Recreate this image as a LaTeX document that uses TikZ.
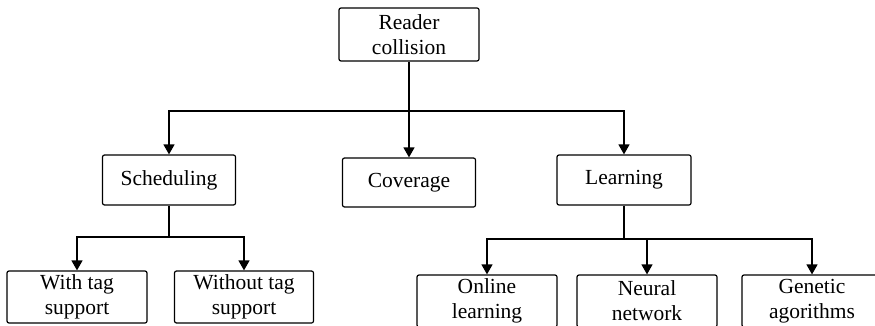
\documentclass[tikz,border=0pt]{standalone}
\usepackage{fontspec}
\setmainfont{Liberation Serif}
\usetikzlibrary{arrows.meta}
\begin{document}
\begin{tikzpicture}[x=1pt,y=-1pt,
  box/.style={draw, line width=1.2pt, rounded corners=2pt, inner sep=0pt,
    align=center, font=\fontsize{21.5}{25}\selectfont},
  link/.style={line width=1.4pt},
  arr/.style={link, -{Triangle[length=10pt,width=11pt]}}]
\useasboundingbox (0,0) rectangle (875,326);

% top level
\node[box, minimum width=140pt, minimum height=53pt] (rc) at (409,34.5) {Reader\\collision};

% second level
\node[box, minimum width=133pt, minimum height=50pt] (sched) at (169,180) {Scheduling};
\node[box, minimum width=133pt, minimum height=49pt] (cov) at (409,182.5) {Coverage};
\node[box, minimum width=134pt, minimum height=50pt] (learn) at (624,180) {Learning};

% third level
\node[box, minimum width=140pt, minimum height=52pt] (wt) at (77,297) {With tag\\support};
\node[box, minimum width=139pt, minimum height=52pt] (wot) at (244,297) {Without tag\\support};
\node[box, minimum width=140pt, minimum height=52pt] (onl) at (487,301) {Online\\learning};
\node[box, minimum width=140pt, minimum height=52pt] (nn) at (647,301) {Neural\\network};
\node[box, minimum width=140pt, minimum height=52pt] (ga) at (812,301) {Genetic\\agorithms};

% junctions
\coordinate (j1) at (409,111);
\coordinate (j2) at (169,237);
\coordinate (j3) at (624,239);

% reader collision branches
\draw[link] (rc.south) -- (j1);
\draw[arr] (j1) -| (sched.north);
\draw[arr] (j1) -- (cov.north);
\draw[arr] (j1) -| (learn.north);

% scheduling branches
\draw[link] (sched.south) -- (j2);
\draw[arr] (j2) -| (wt.north);
\draw[arr] (j2) -| (wot.north);

% learning branches
\draw[link] (learn.south) -- (j3);
\draw[arr] (j3) -| (onl.north);
\draw[arr] (j3) -| (nn.north);
\draw[arr] (j3) -| (ga.north);
\end{tikzpicture}
\end{document}
